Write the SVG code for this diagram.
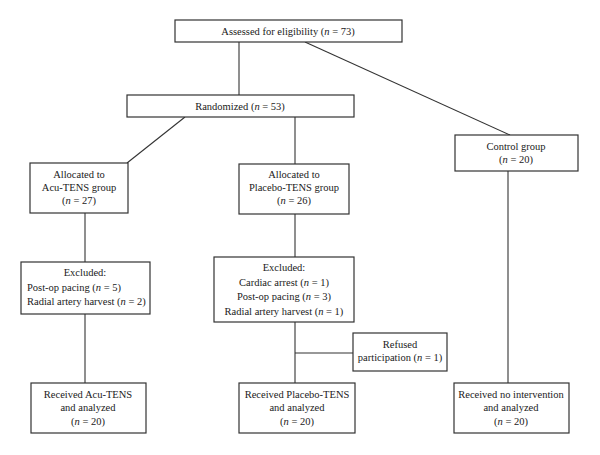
<svg xmlns="http://www.w3.org/2000/svg" width="600" height="455" viewBox="0 0 600 455">
<style>
rect{fill:#fff;stroke:#333;stroke-width:1.2}
line{stroke:#333;stroke-width:1.1}
text{font-family:"Liberation Serif","Times New Roman",serif;font-size:10.5px;fill:#1a1a1a;text-anchor:middle}
.l{text-anchor:start}
.i{font-style:italic}
</style>
<rect x="0" y="0" width="600" height="455" style="fill:#fff;stroke:none"/>
<g id="connectors">
<line x1="239" y1="42" x2="239" y2="95"/>
<line x1="305" y1="42" x2="510" y2="135"/>
<line x1="185" y1="117" x2="127" y2="163"/>
<line x1="295" y1="117" x2="295" y2="164"/>
<line x1="85" y1="213" x2="85" y2="262"/>
<line x1="295" y1="214" x2="295" y2="257"/>
<line x1="508" y1="171" x2="508" y2="383"/>
<line x1="85" y1="314" x2="85" y2="383"/>
<line x1="295" y1="322" x2="295" y2="383"/>
<line x1="295" y1="353" x2="353" y2="353"/>
</g>
<g id="assessed"><rect x="175" y="20" width="227" height="22"/><text x="288" y="35">Assessed for eligibility (<tspan class="i">n</tspan> = 73)</text></g>
<g id="randomized"><rect x="127" y="95" width="227" height="22"/><text x="240" y="110">Randomized (<tspan class="i">n</tspan> = 53)</text></g>
<g id="acu"><rect x="30" y="163" width="98" height="50"/><text x="79" y="178">Allocated to</text><text x="79" y="191">Acu-TENS group</text><text x="79" y="204">(<tspan class="i">n</tspan> = 27)</text></g>
<g id="placebo"><rect x="239" y="164" width="110" height="50"/><text x="294" y="178">Allocated to</text><text x="294" y="191">Placebo-TENS group</text><text x="294" y="204">(<tspan class="i">n</tspan> = 26)</text></g>
<g id="control"><rect x="455" y="135" width="123" height="36"/><text x="516" y="150">Control group</text><text x="516" y="163">(<tspan class="i">n</tspan> = 20)</text></g>
<g id="excl-acu"><rect x="21" y="262" width="129" height="52"/><text x="85" y="276">Excluded:</text><text class="l" x="27" y="291">Post-op pacing (<tspan class="i">n</tspan> = 5)</text><text class="l" x="27" y="305">Radial artery harvest (<tspan class="i">n</tspan> = 2)</text></g>
<g id="excl-placebo"><rect x="214" y="257" width="140" height="65"/><text x="284" y="271">Excluded:</text><text x="284" y="286">Cardiac arrest (<tspan class="i">n</tspan> = 1)</text><text x="284" y="300">Post-op pacing (<tspan class="i">n</tspan> = 3)</text><text x="284" y="315">Radial artery harvest (<tspan class="i">n</tspan> = 1)</text></g>
<g id="refused"><rect x="353" y="333" width="94" height="38"/><text x="400" y="348">Refused</text><text x="400" y="361">participation (<tspan class="i">n</tspan> = 1)</text></g>
<g id="recv-acu"><rect x="31" y="383" width="115" height="50"/><text x="88" y="398">Received Acu-TENS</text><text x="88" y="411">and analyzed</text><text x="88" y="425">(<tspan class="i">n</tspan> = 20)</text></g>
<g id="recv-placebo"><rect x="239" y="383" width="116" height="50"/><text x="297" y="398">Received Placebo-TENS</text><text x="297" y="411">and analyzed</text><text x="297" y="425">(<tspan class="i">n</tspan> = 20)</text></g>
<g id="recv-none"><rect x="454" y="383" width="115" height="50"/><text x="511" y="398">Received no intervention</text><text x="511" y="411">and analyzed</text><text x="511" y="425">(<tspan class="i">n</tspan> = 20)</text></g>
</svg>
